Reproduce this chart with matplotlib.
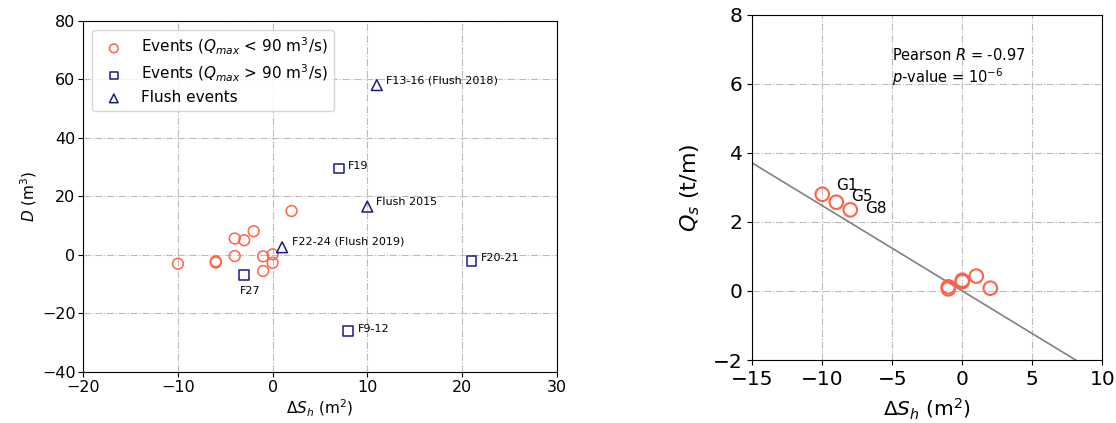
import numpy as np
import matplotlib
matplotlib.use("Agg")
import matplotlib.pyplot as plt

# left panel: D vs delta S_h
small_x = [-10, -6, -6, -4, -4, -3, -2, -1, -1, 0, 0, 2]
small_y = [-3.0, -2.2, -2.6, -0.4, 5.6, 5.0, 8.1, -0.5, -5.5, 0.2, -2.7, 15.0]

large_names = ["F27", "F9-12", "F19", "F20-21"]
large_x = [-3, 8, 7, 21]
large_y = [-7.0, -26.0, 29.5, -2.0]

flush_names = ["F13-16 (Flush 2018)", "Flush 2015", "F22-24 (Flush 2019)"]
flush_x = [11, 10, 1]
flush_y = [58.0, 16.5, 2.6]

# right panel: Q_s vs delta S_h
g_x = [-10, -9, -8, -1, -1, 0, 0, 1, 2]
g_y = [2.8, 2.57, 2.35, 0.06, 0.12, 0.27, 0.31, 0.43, 0.08]
g_names = ["G1", "G5", "G8"]
fit_slope = -0.247
fit_intercept = 0.0

orange = "#ff6347"
navy = "#1a1a8c"

fig = plt.figure(figsize=(11.16, 4.23), dpi=100)
ax1 = fig.add_axes([0.0746, 0.1206, 0.4242, 0.8305])
ax2 = fig.add_axes([0.6741, 0.1489, 0.3136, 0.8163])

# ---- left
ax1.scatter(small_x, small_y, s=60, facecolors="none", edgecolors=orange,
            linewidths=1.1, label=r"Events ($Q_{max}$ < 90 m$^3$/s)", zorder=3)
ax1.scatter(large_x, large_y, s=50, marker="s", facecolors="none", edgecolors=navy,
            linewidths=1.1, label=r"Events ($Q_{max}$ > 90 m$^3$/s)", zorder=3)
ax1.scatter(flush_x, flush_y, s=60, marker="^", facecolors="none", edgecolors=navy,
            linewidths=1.1, label="Flush events", zorder=3)

large_offsets = [(-3, -11.5), (6.5, 1.5), (6.5, 2), (7, 2)]
for name, x, y, off in zip(large_names, large_x, large_y, large_offsets):
    ax1.annotate(name, (x, y), xytext=off, textcoords="offset points",
                 fontsize=8, ha="left", va="center")
flush_offsets = [(6.5, 3), (6.5, 3.5), (7, 4)]
for name, x, y, off in zip(flush_names, flush_x, flush_y, flush_offsets):
    ax1.annotate(name, (x, y), xytext=off, textcoords="offset points",
                 fontsize=8, ha="left", va="center")

ax1.set_xlim(-20, 30)
ax1.set_ylim(-40, 80)
ax1.set_xticks(np.arange(-20, 31, 10))
ax1.set_yticks(np.arange(-40, 81, 20))
ax1.tick_params(labelsize=11.5, pad=2)
ax1.grid(True, linestyle="-.", color="#bbbbbb", linewidth=0.8)
ax1.set_axisbelow(True)
ax1.set_xlabel(r"$\Delta S_h$ (m$^2$)", fontsize=11, labelpad=2)
ax1.set_ylabel(r"$D$ (m$^3$)", fontsize=11, labelpad=2)
ax1.legend(loc="upper left", fontsize=11, markerscale=0.8, labelspacing=0.4,
           borderaxespad=0.6)

# ---- right
ax2.scatter(g_x, g_y, s=95, facecolors="none", edgecolors=orange,
            linewidths=1.5, zorder=3)
xs = np.array([-15, 10])
ax2.plot(xs, fit_slope * xs + fit_intercept, color="gray", linewidth=1.2, zorder=2)

g_offsets = [(10, 6.5), (10.8, 4), (10.8, 1.2)]
for name, x, y, off in zip(g_names, g_x, g_y, g_offsets):
    ax2.annotate(name, (x, y), xytext=off, textcoords="offset points",
                 fontsize=11, ha="left", va="center")

ax2.text(-5, 6.83, "Pearson $R$ = -0.97", fontsize=10.5, va="center", ha="left")
ax2.text(-5, 6.2, "$p$-value = $10^{-6}$", fontsize=10.5, va="center", ha="left")

ax2.set_xlim(-15, 10)
ax2.set_ylim(-2, 8)
ax2.set_xticks(np.arange(-15, 11, 5))
ax2.set_yticks(np.arange(-2, 9, 2))
ax2.tick_params(labelsize=14.5)
ax2.grid(True, linestyle="-.", color="#bbbbbb", linewidth=0.8)
ax2.set_axisbelow(True)
ax2.set_xlabel(r"$\Delta S_h$ (m$^2$)", fontsize=14.5, labelpad=6)
ax2.set_ylabel(r"$Q_s$ (t/m)", fontsize=16, labelpad=8)

fig.savefig("out.png", dpi=100)
